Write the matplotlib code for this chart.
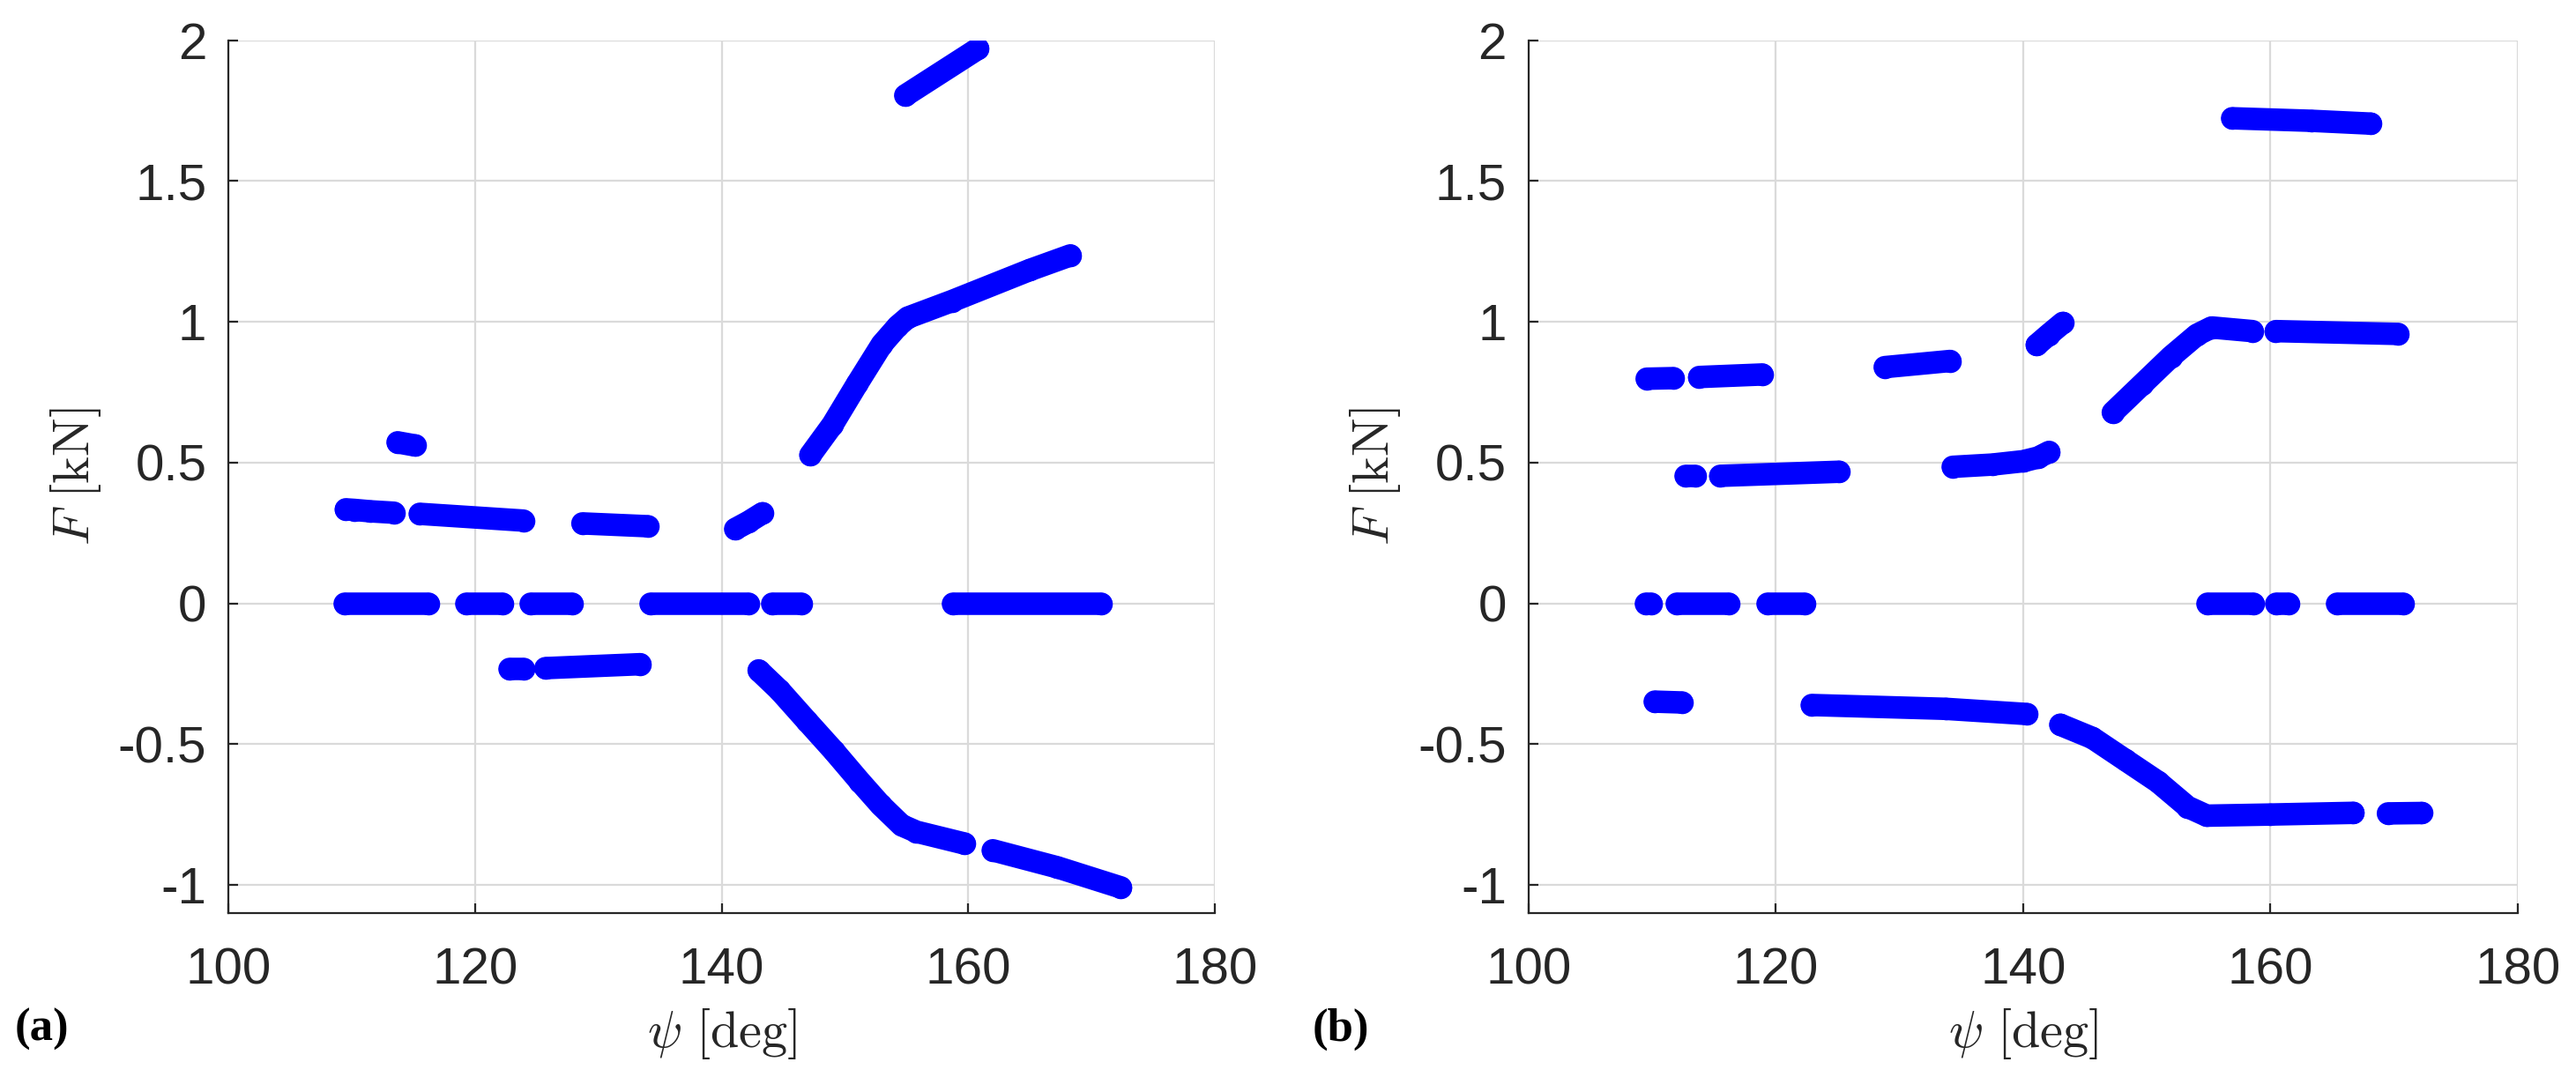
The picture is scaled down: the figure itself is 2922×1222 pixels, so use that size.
import matplotlib
matplotlib.use("Agg")
import matplotlib.pyplot as plt
from matplotlib.ticker import FormatStrFormatter

plt.rcParams["mathtext.fontset"] = "cm"
plt.rcParams["axes.unicode_minus"] = False
plt.rcParams["font.family"] = ["Liberation Sans", "DejaVu Sans"]

# ---- panel (a): psi [deg] / F [kN], one list per run of dots ----
psi_a = [
    [113.7, 115.1],
    [109.5, 110.2, 111.5, 113.4],
    [115.5, 123.9],
    [128.7, 134.0],
    [141.1, 142.2, 143.3],
    [109.4, 116.2],
    [119.3, 122.2],
    [124.5, 127.9],
    [134.2, 142.2],
    [144.1, 146.5],
    [158.8, 170.8],
    [122.8, 123.9],
    [125.7, 133.4],
    [147.2, 149.0, 151.0, 153.0, 154.3, 155.1, 158.7, 165.0, 168.3],
    [154.9, 160.8],
    [143.0, 144.7, 146.9, 149.1, 151.2, 152.9, 154.6, 155.8, 159.7],
    [162.0, 167.2, 172.4],
]
F_a = [
    [0.572, 0.561],
    [0.334, 0.332, 0.327, 0.322],
    [0.318, 0.294],
    [0.284, 0.274],
    [0.264, 0.290, 0.320],
    [0.0, 0.0],
    [0.0, 0.0],
    [0.0, 0.0],
    [0.0, 0.0],
    [0.0, 0.0],
    [0.0, 0.0],
    [-0.233, -0.233],
    [-0.230, -0.216],
    [0.527, 0.635, 0.780, 0.920, 0.985, 1.015, 1.074, 1.184, 1.236],
    [1.804, 1.970],
    [-0.238, -0.309, -0.417, -0.524, -0.632, -0.716, -0.788, -0.811, -0.853],
    [-0.877, -0.937, -1.009],
]

# ---- panel (b) ----
psi_b = [
    [109.55, 111.7],
    [113.8, 118.9],
    [128.8, 134.1],
    [141.1, 142.05, 143.2],
    [156.9, 163.3, 168.1],
    [112.7, 113.5],
    [115.5, 125.1],
    [134.3, 137.5, 140.0, 141.2, 142.1],
    [147.25, 149.6, 151.95, 154.05, 155.24, 158.54],
    [160.43, 170.32],
    [109.5, 109.9],
    [112.0, 116.2],
    [119.3, 122.3],
    [154.9, 158.6],
    [160.5, 161.5],
    [165.4, 170.7],
    [110.2, 112.4],
    [122.9, 133.7, 140.3],
    [143.0, 145.6, 148.25, 150.9, 153.3, 154.85, 160.0, 166.7],
    [169.5, 172.2],
]
F_b = [
    [0.798, 0.800],
    [0.804, 0.813],
    [0.839, 0.861],
    [0.918, 0.954, 0.996],
    [1.723, 1.714, 1.704],
    [0.452, 0.452],
    [0.453, 0.4675],
    [0.485, 0.493, 0.505, 0.518, 0.538],
    [0.678, 0.777, 0.876, 0.954, 0.980, 0.967],
    [0.967, 0.957],
    [0.0, 0.0],
    [0.0, 0.0],
    [0.0, 0.0],
    [0.0, 0.0],
    [0.0, 0.0],
    [0.0, 0.0],
    [-0.349, -0.352],
    [-0.361, -0.3745, -0.393],
    [-0.431, -0.478, -0.556, -0.634, -0.723, -0.754, -0.750, -0.744],
    [-0.746, -0.7446],
]

xticks = [100, 120, 140, 160, 180]
yticks = [-1, -0.5, 0, 0.5, 1, 1.5, 2]
panel_tags = ["(a)", "(b)"]

fig = plt.figure(figsize=(14.61, 6.11), dpi=200)
ax_a = fig.add_axes([0.0888, 0.1522, 0.3827, 0.8104])
ax_b = fig.add_axes([0.5934, 0.1522, 0.3840, 0.8104])

dark = "#262626"
for ax, xs, ys, tag in [(ax_a, psi_a, F_a, panel_tags[0]), (ax_b, psi_b, F_b, panel_tags[1])]:
    for px, fy in zip(xs, ys):
        ax.plot(px, fy, "-", color="#0000ff", lw=9.2, solid_capstyle="round",
                solid_joinstyle="round", marker="o", ms=9.2, mec="none", zorder=3)
    ax.set_xlim(100, 180)
    ax.set_ylim(-1.1, 2)
    ax.set_xticks(xticks)
    ax.set_yticks(yticks)
    ax.yaxis.set_major_formatter(FormatStrFormatter("%g"))
    ax.grid(True, color="#dadada", lw=0.8)
    ax.set_axisbelow(True)
    for sp in ["top", "right"]:
        ax.spines[sp].set_visible(False)
    for sp in ["left", "bottom"]:
        ax.spines[sp].set_color(dark)
        ax.spines[sp].set_linewidth(0.8)
    ax.tick_params(direction="in", length=4, width=0.8, color=dark,
                   labelcolor=dark, labelsize=21, pad=9)
    ax.tick_params(axis="x", pad=14)
    ax.set_xlabel(r"$\psi\ [\mathrm{deg}]$", fontsize=21, color=dark, va="center")
    ax.xaxis.set_label_coords(0.5, -0.138)
    ax.set_ylabel(r"$F\ [\mathrm{kN}]$", fontsize=21, color=dark, va="center")
    ax.yaxis.set_label_coords(-0.155, 0.5)
    ax.text(-0.19, -0.133, tag, transform=ax.transAxes, fontsize=19,
            fontweight="bold", family="Liberation Serif", ha="center", va="center")

fig.savefig("out.png", dpi=200)
